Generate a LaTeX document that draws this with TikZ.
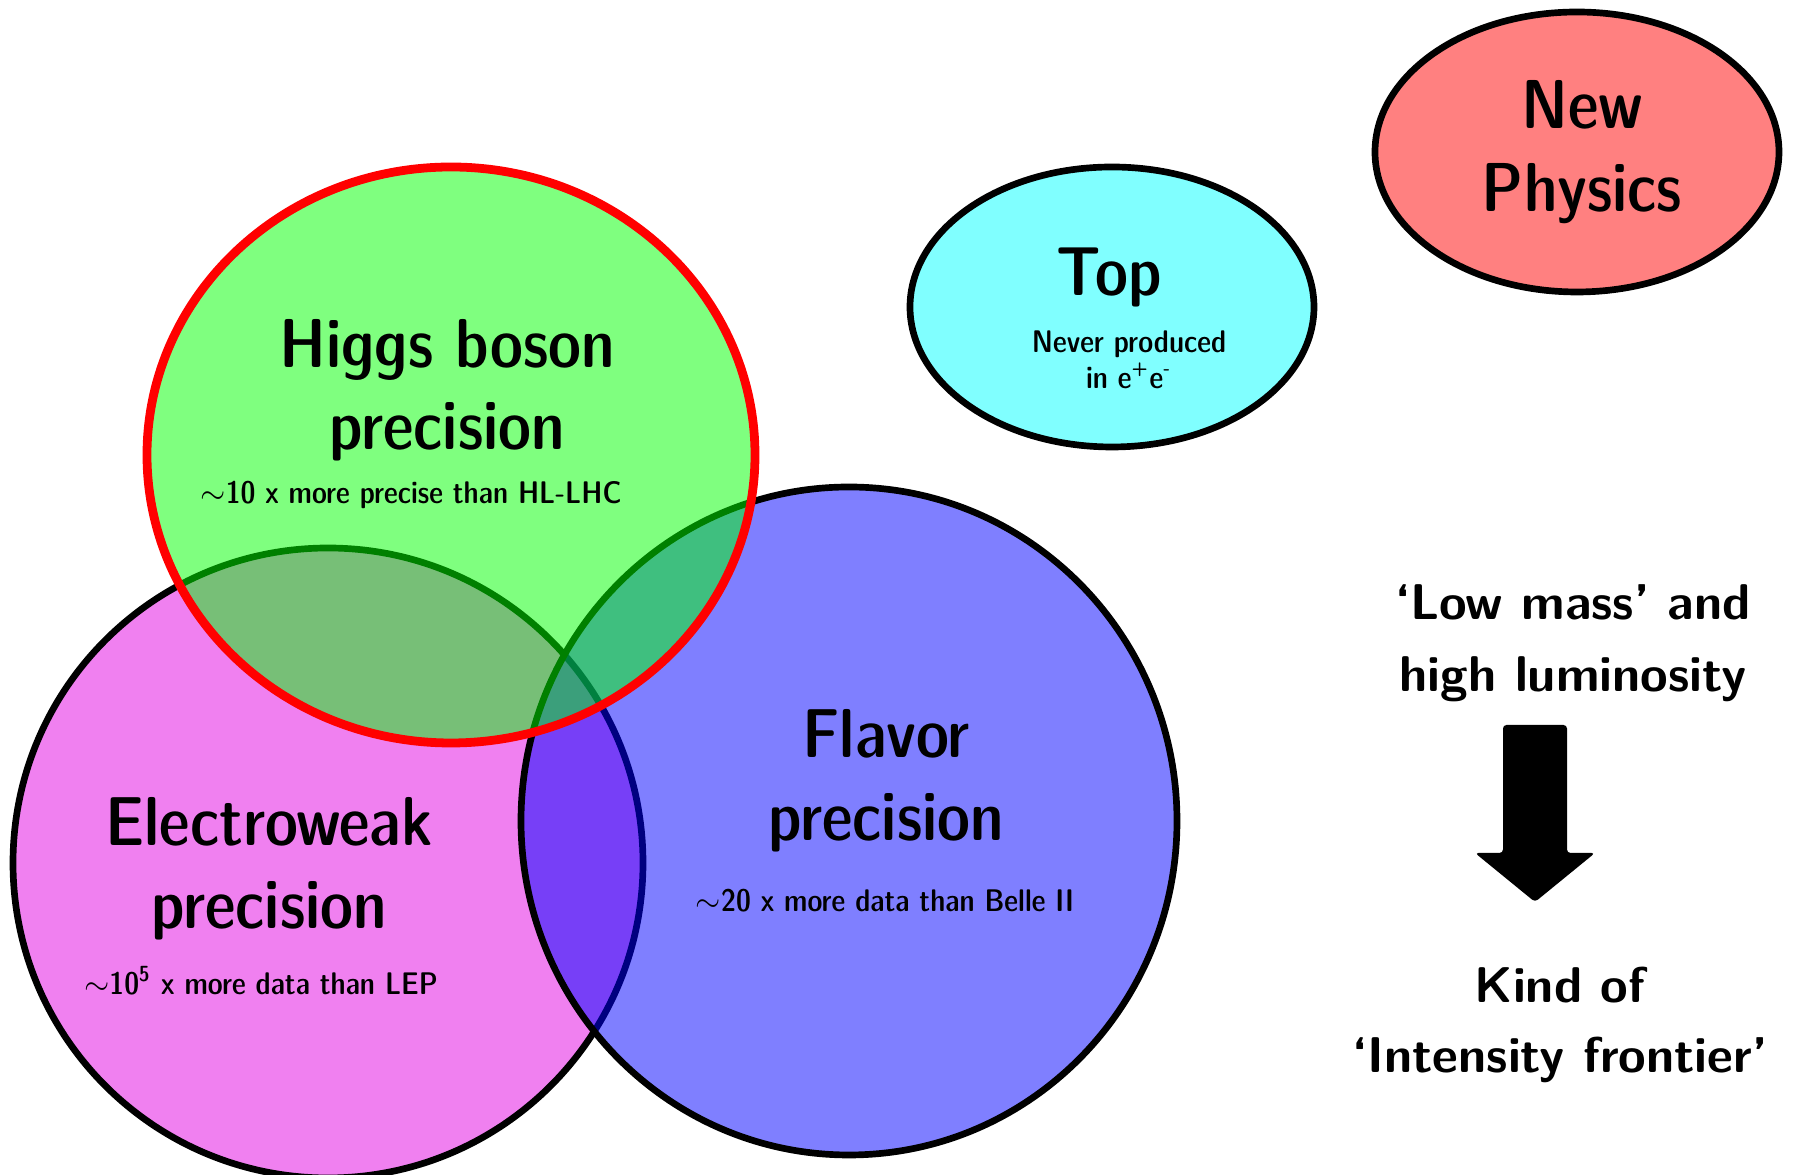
\documentclass[tikz,border=0pt]{standalone}
\usetikzlibrary{positioning,shapes.geometric}
\definecolor{ewpink}{HTML}{F080F0}
\definecolor{topcyan}{HTML}{80FFFF}
\definecolor{npred}{HTML}{FF8080}

\begin{document}
\begin{tikzpicture}[
  every node/.style={inner sep=0pt,align=center},
  blob/.style={ellipse,draw=black,line width=1.9pt,inner sep=0pt},
  title/.style={font=\fontsize{19.7}{23}\fontseries{sbc}\sffamily,anchor=base},
  note/.style={font=\fontsize{8.9}{10}\fontseries{sbc}\sffamily,anchor=base},
  side/.style={font=\fontsize{14.3}{17}\fontseries{bx}\sffamily,anchor=base}
]
\useasboundingbox (0,0) rectangle (17.94,11.75);
% the three overlapping circles
\node[blob,fill=ewpink,minimum width=6.30cm,minimum height=6.30cm] (ew) at (3.28,3.12) {};
\node[blob,fill=blue,fill opacity=0.5,minimum width=6.56cm,minimum height=6.68cm] (flavor) at (8.49,3.54) {};
\node[blob,draw=red,line width=2.5pt,fill=green,fill opacity=0.5,minimum width=6.08cm,minimum height=5.76cm] (higgs) at (4.51,7.20) {};
\node[blob,fill=topcyan,minimum width=4.04cm,minimum height=2.80cm] (top) at (11.12,8.68) {};
\node[blob,fill=npred,minimum width=4.04cm,minimum height=2.80cm] (newphys) at (15.77,10.23) {};

% texts
\node[title] (higgsa) at (4.47,8.07) {Higgs boson};
\node[title,below=0.82cm of higgsa.base,anchor=base] (higgsb) {precision};
\node[note] (higgsn) at (4.11,6.71) {$\sim$10 x more precise than HL-LHC};

\node[title] (ewa) at (2.69,3.29) {Electroweak};
\node[title,below=0.83cm of ewa.base,anchor=base] (ewb) {precision};
\node[note] (ewn) at (2.61,1.80) {$\sim$10\textsuperscript{5} x more data than LEP};

\node[title] (flava) at (8.86,4.17) {Flavor};
\node[title,below=0.83cm of flava.base,anchor=base] (flavb) {precision};
\node[note] (flavn) at (8.85,2.63) {$\sim$20 x more data than Belle II};

\node[title] (topa) at (11.09,8.79) {Top};
\node[note] (topb) at (11.29,8.22) {Never produced};
\node[note,below=0.36cm of topb.base,anchor=base] (topc) {in e\textsuperscript{+}e\textsuperscript{-}};

\node[title] (npa) at (15.82,10.46) {New};
\node[title,below=0.83cm of npa.base,anchor=base] (npb) {Physics};

% right column
\node[side] (lowa) at (15.73,5.55) {`Low mass' and};
\node[side,below=0.72cm of lowa.base,anchor=base] (lowb) {high luminosity};
\node[side] (kinda) at (15.60,1.72) {Kind of};
\node[side,below=0.70cm of kinda.base,anchor=base] (kindb) {`Intensity frontier'};

\coordinate (arrtop) at (15.35,4.50);
\fill[rounded corners=1pt] (arrtop) ++(-0.32,0) -- ++(0.64,0) -- ++(0,-1.28) -- ++(0.28,0)
  -- ++(-0.60,-0.49) -- ++(-0.60,0.49) -- ++(0.28,0) -- cycle;
\end{tikzpicture}
\end{document}
